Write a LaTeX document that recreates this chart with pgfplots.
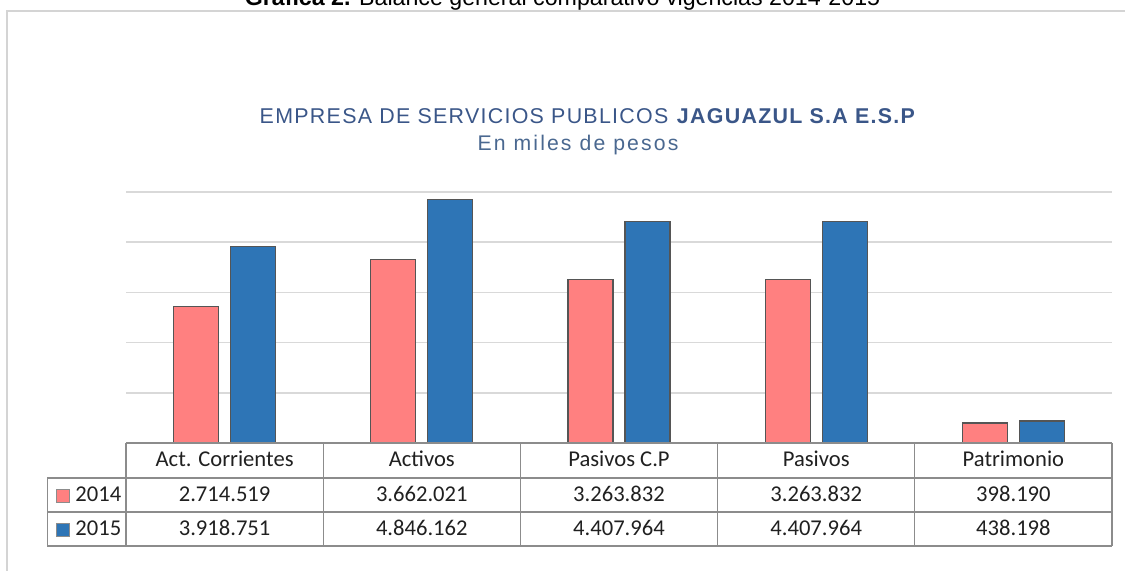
\documentclass[border=0pt]{standalone}
\usepackage{pgfplots}
\usepackage{pgfplotstable}
\pgfplotsset{compat=1.18}
\usepackage{fontspec}
\setmainfont{Carlito}
\newfontfamily\arial{Liberation Sans}
\newfontfamily\arialT[LetterSpace=6]{Liberation Sans}
\newfontfamily\arialS[LetterSpace=10]{Liberation Sans}
\definecolor{c14}{HTML}{FF8080}
\definecolor{c15}{HTML}{2E75B6}
\definecolor{edge}{HTML}{555555}
\definecolor{tblue}{HTML}{3A5688}
\definecolor{sblue}{HTML}{4A6890}
\definecolor{gridc}{HTML}{D9D9D9}
\definecolor{tab}{HTML}{8C8C8C}
\definecolor{framec}{HTML}{D4D4D4}
\definecolor{txt}{HTML}{202020}

\pgfplotstableread{
x y
0 2714519
1 3662021
2 3263832
3 3263832
4 398190
}\dataA
\pgfplotstableread{
x y
0 3918751
1 4846162
2 4407964
3 4407964
4 438198
}\dataB

\begin{document}
\begin{tikzpicture}
\useasboundingbox (0pt,0pt) rectangle (562.5pt,-285.5pt);
\draw[framec, line width=0.8pt] (3.5pt,-285.5pt) -- (3.5pt,-5.5pt) -- (562.5pt,-5.5pt);
\node[anchor=base, inner sep=0pt, font=\arial\fontsize{11.6}{13}\selectfont] at (281.25pt,-2.75pt) {\textbf{Gráfica 2.} Balance general comparativo vigencias 2014-2015};
\node[anchor=base, inner sep=0pt, text=tblue, font=\arialT\fontsize{10.7}{13}\selectfont] at (294pt,-62pt) {EMPRESA DE SERVICIOS PUBLICOS \textbf{JAGUAZUL S.A E.S.P}};
\node[anchor=base, inner sep=0pt, text=sblue, font=\arialS\fontsize{10.6}{13}\selectfont] at (289pt,-75.5pt) {En miles de pesos};

\begin{axis}[at={(63pt,-221.5pt)}, anchor=south west, scale only axis,
  width=493pt, height=125.5pt,
  xmin=-0.5, xmax=4.5, ymin=0, ymax=5e6,
  ybar=6pt, bar width=22.5pt,
  axis line style={draw=none},
  scaled y ticks=false,
  ytick={1e6,2e6,3e6,4e6,5e6}, yticklabels={}, xtick=\empty,
  ymajorgrids, grid style={gridc, line width=0.8pt},
  major tick length=0pt, clip=false]
\addplot[fill=c14, draw=edge, line width=0.6pt] table[x=x,y=y]{\dataA};
\addplot[fill=c15, draw=edge, line width=0.6pt] table[x=x,y=y]{\dataB};

% table grid
\draw[tab, line width=0.6pt] (axis cs:-0.5,0) -- (axis cs:4.5,0);
\draw[tab, line width=0.6pt] ([yshift=-17.5pt]axis cs:-0.9,0) -- ([yshift=-17.5pt]axis cs:4.5,0);
\draw[tab, line width=0.6pt] ([yshift=-34.5pt]axis cs:-0.9,0) -- ([yshift=-34.5pt]axis cs:4.5,0);
\draw[tab, line width=0.6pt] ([yshift=-51.5pt]axis cs:-0.9,0) -- ([yshift=-51.5pt]axis cs:4.5,0);
\draw[tab, line width=0.6pt] ([yshift=-17.5pt]axis cs:-0.9,0) -- ([yshift=-51.5pt]axis cs:-0.9,0);
\draw[tab, line width=0.6pt] (axis cs:-0.5,0) -- ([yshift=-51.5pt]axis cs:-0.5,0);
\draw[tab, line width=0.6pt] (axis cs:0.5,0) -- ([yshift=-51.5pt]axis cs:0.5,0);
\draw[tab, line width=0.6pt] (axis cs:1.5,0) -- ([yshift=-51.5pt]axis cs:1.5,0);
\draw[tab, line width=0.6pt] (axis cs:2.5,0) -- ([yshift=-51.5pt]axis cs:2.5,0);
\draw[tab, line width=0.6pt] (axis cs:3.5,0) -- ([yshift=-51.5pt]axis cs:3.5,0);
\draw[tab, line width=0.6pt] (axis cs:4.5,0) -- ([yshift=-51.5pt]axis cs:4.5,0);

\begin{scope}[every node/.style={anchor=base, inner sep=0pt, text=txt, font=\fontsize{11.3}{13}\selectfont}]
\node at ([yshift=-12pt]axis cs:0,0) {Act. Corrientes};
\node at ([yshift=-12pt]axis cs:1,0) {Activos};
\node at ([yshift=-12pt]axis cs:2,0) {Pasivos C.P};
\node at ([yshift=-12pt]axis cs:3,0) {Pasivos};
\node at ([yshift=-12pt]axis cs:4,0) {Patrimonio};
\node at ([yshift=-29pt]axis cs:0,0) {2.714.519};
\node at ([yshift=-29pt]axis cs:1,0) {3.662.021};
\node at ([yshift=-29pt]axis cs:2,0) {3.263.832};
\node at ([yshift=-29pt]axis cs:3,0) {3.263.832};
\node at ([yshift=-29pt]axis cs:4,0) {398.190};
\node at ([yshift=-46pt]axis cs:0,0) {3.918.751};
\node at ([yshift=-46pt]axis cs:1,0) {4.846.162};
\node at ([yshift=-46pt]axis cs:2,0) {4.407.964};
\node at ([yshift=-46pt]axis cs:3,0) {4.407.964};
\node at ([yshift=-46pt]axis cs:4,0) {438.198};
\node[anchor=base west] at ([yshift=-29pt]axis cs:-0.7586,0) {2014};
\node[anchor=base west] at ([yshift=-46pt]axis cs:-0.7586,0) {2015};
\end{scope}
\node[fill=c14, draw=tab, line width=0.5pt, minimum size=6.5pt, inner sep=0pt] at ([yshift=-26.25pt]axis cs:-0.822,0) {};
\node[fill=c15, draw=tab, line width=0.5pt, minimum size=6.5pt, inner sep=0pt] at ([yshift=-43.25pt]axis cs:-0.822,0) {};
\end{axis}
\end{tikzpicture}
\end{document}
